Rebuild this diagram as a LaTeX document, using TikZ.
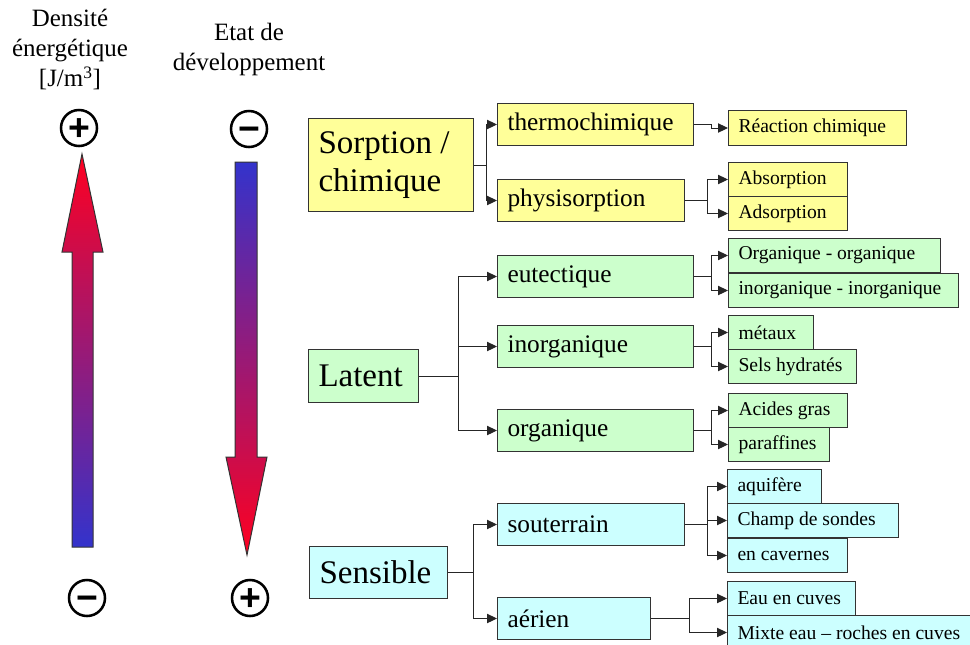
\documentclass[tikz,border=0pt]{standalone}
\usepackage{fontspec}
\setmainfont{Liberation Serif}
\setsansfont{Liberation Sans}
\usetikzlibrary{arrows.meta}

\definecolor{jaunepale}{HTML}{FFFF99}
\definecolor{vertpale}{HTML}{CCFFCC}
\definecolor{cyanpale}{HTML}{CCFFFF}
\definecolor{rougevif}{RGB}{255,0,32}
\definecolor{bleufonce}{HTML}{3333CC}

\tikzset{
  boite/.style={draw=black!80, line width=0.75pt, anchor=north west, align=flush left, inner xsep=7.5pt, inner ysep=0pt},
  petite/.style={boite, font=\fontsize{14.7}{17}\selectfont, minimum height=25.5pt},
  moyenne/.style={boite, font=\fontsize{19}{22}\selectfont, minimum height=31.5pt},
  grande/.style={boite, font=\fontsize{24.75}{28.5}\selectfont},
  lien/.style={draw=black!85, line width=0.75pt},
  fleche/.style={lien, -{Triangle[length=7.5pt,width=7pt]}},
  signe/.style={circle, draw, line width=1.9pt, inner sep=0pt, minimum size=27pt, font=\sffamily\bfseries\fontsize{28}{28}\selectfont, text height=19.3pt, text depth=0pt},
  titre/.style={anchor=north, align=center, inner sep=0pt, font=\fontsize{18.7}{22.5}\selectfont},
  fleche grad/.style={draw=black!80, line width=0.75pt}
}

\begin{document}
\begin{tikzpicture}[x=0.75pt,y=0.75pt,yscale=-1,xscale=1]
\useasboundingbox (0,0) rectangle (970,644);

% Titres des echelles
\node[titre] (densite) at (70,9) {Densité\\énergétique\\{[}J/m\textsuperscript{3}]};
\node[titre] (etat) at (249,23) {Etat de\\développement};

% Signes
\node[signe] (plushaut) at (79,128) {+};
\node[signe] (moinsbas) at (87,598) {−};
\node[signe] (moinshaut) at (249,129) {−};
\node[signe] (plusbas) at (250,598) {+};

%Shape: Fleche montante
\draw[fleche grad, top color=rougevif, bottom color=bleufonce] (72,547) -- (72,252) -- (62,252) -- (82,154) -- (103,252) -- (93,252) -- (93,547) -- cycle;
%Shape: Fleche descendante
\draw[fleche grad, top color=bleufonce, bottom color=rougevif] (235,162) -- (257,162) -- (257,457) -- (267,457) -- (247,555) -- (226,457) -- (235,457) -- cycle;

% Sorption / chimique
\node[grande, fill=jaunepale, text width=108.75pt, minimum height=69.75pt] (sorption) at (308,118) {Sorption /\\chimique};
\node[moyenne, fill=jaunepale, text width=132pt] (thermo) at (497,103) {thermochimique};
\node[moyenne, fill=jaunepale, text width=125.25pt] (physi) at (497,179) {physisorption};
\node[petite, fill=jaunepale, text width=118.5pt, minimum height=26.25pt] (reaction) at (728,110) {Réaction chimique};
\node[petite, fill=jaunepale, text width=74.25pt] (absorption) at (728,162) {Absorption};
\node[petite, fill=jaunepale, text width=74.25pt] (adsorption) at (728,196) {Adsorption};

% Latent
\node[grande, fill=vertpale, text width=67.5pt, minimum height=39.75pt] (latent) at (308,349) {Latent};
\node[moyenne, fill=vertpale, text width=132pt] (eutectique) at (497,255) {eutectique};
\node[moyenne, fill=vertpale, text width=132pt] (inorganique) at (497,325) {inorganique};
\node[moyenne, fill=vertpale, text width=132pt] (organique) at (497,409) {organique};
\node[petite, fill=vertpale, text width=144pt] (orgorg) at (728,238) {Organique - organique};
\node[petite, fill=vertpale, text width=157.5pt] (inoino) at (728,273) {inorganique - inorganique};
\node[petite, fill=vertpale, text width=48.75pt] (metaux) at (728,315) {métaux};
\node[petite, fill=vertpale, text width=81pt] (sels) at (728,349) {Sels hydratés};
\node[petite, fill=vertpale, text width=74.25pt] (acides) at (728,393) {Acides gras};
\node[petite, fill=vertpale, text width=60.75pt] (paraffines) at (728,427) {paraffines};

% Sensible
\node[grande, fill=cyanpale, text width=88.5pt, minimum height=39pt] (sensible) at (309,546) {Sensible};
\node[moyenne, fill=cyanpale, text width=125.25pt] (souterrain) at (497,503) {souterrain};
\node[moyenne, fill=cyanpale, text width=99.75pt] (aerien) at (497,597) {aérien};
\node[petite, fill=cyanpale, text width=55.5pt] (aquifere) at (727,469) {aquifère};
\node[petite, fill=cyanpale, text width=113.25pt] (champ) at (727,503) {Champ de sondes};
\node[petite, fill=cyanpale, text width=75pt] (cavernes) at (727,538) {en cavernes};
\node[petite, fill=cyanpale, text width=81pt] (eau) at (727,581) {Eau en cuves};
\node[petite, fill=cyanpale, text width=195pt] (mixte) at (727,615) {Mixte eau – roches en cuves};

% Liaisons
\draw[lien] (sorption.east) -- ++(12,0) coordinate (jsorption);
\draw[fleche] (jsorption) |- (thermo.west);
\draw[fleche] (jsorption) |- (physi.west);
\draw[fleche] (thermo.east) -- ++(17,0) |- (reaction.west);
\draw[lien] (physi.east) -- ++(22,0) coordinate (jphysi);
\draw[fleche] (jphysi) |- (absorption.west);
\draw[fleche] (jphysi) |- (adsorption.west);

\draw[lien] (latent.east) -- ++(39,0) coordinate (jlatent);
\draw[fleche] (jlatent) |- (eutectique.west);
\draw[fleche] (jlatent) |- (inorganique.west);
\draw[fleche] (jlatent) |- (organique.west);
\draw[lien] (eutectique.east) -- ++(17,0) coordinate (jeut);
\draw[fleche] (jeut) |- (orgorg.west);
\draw[fleche] (jeut) |- (inoino.west);
\draw[lien] (inorganique.east) -- ++(17,0) coordinate (jinorg);
\draw[fleche] (jinorg) |- (metaux.west);
\draw[fleche] (jinorg) |- (sels.west);
\draw[lien] (organique.east) -- ++(17,0) coordinate (jorg);
\draw[fleche] (jorg) |- (acides.west);
\draw[fleche] (jorg) |- (paraffines.west);

\draw[lien] (sensible.east) -- ++(25,0) coordinate (jsensible);
\draw[fleche] (jsensible) |- (souterrain.west);
\draw[fleche] (jsensible) |- (aerien.west);
\draw[lien] (souterrain.east) -- ++(22,0) coordinate (jsout);
\draw[fleche] (jsout) |- (aquifere.west);
\draw[fleche] (jsout) |- (champ.west);
\draw[fleche] (jsout) |- (cavernes.west);
\draw[lien] (aerien.east) -- ++(38,0) coordinate (jaer);
\draw[fleche] (jaer) |- (eau.west);
\draw[fleche] (jaer) |- (mixte.west);
\end{tikzpicture}
\end{document}
